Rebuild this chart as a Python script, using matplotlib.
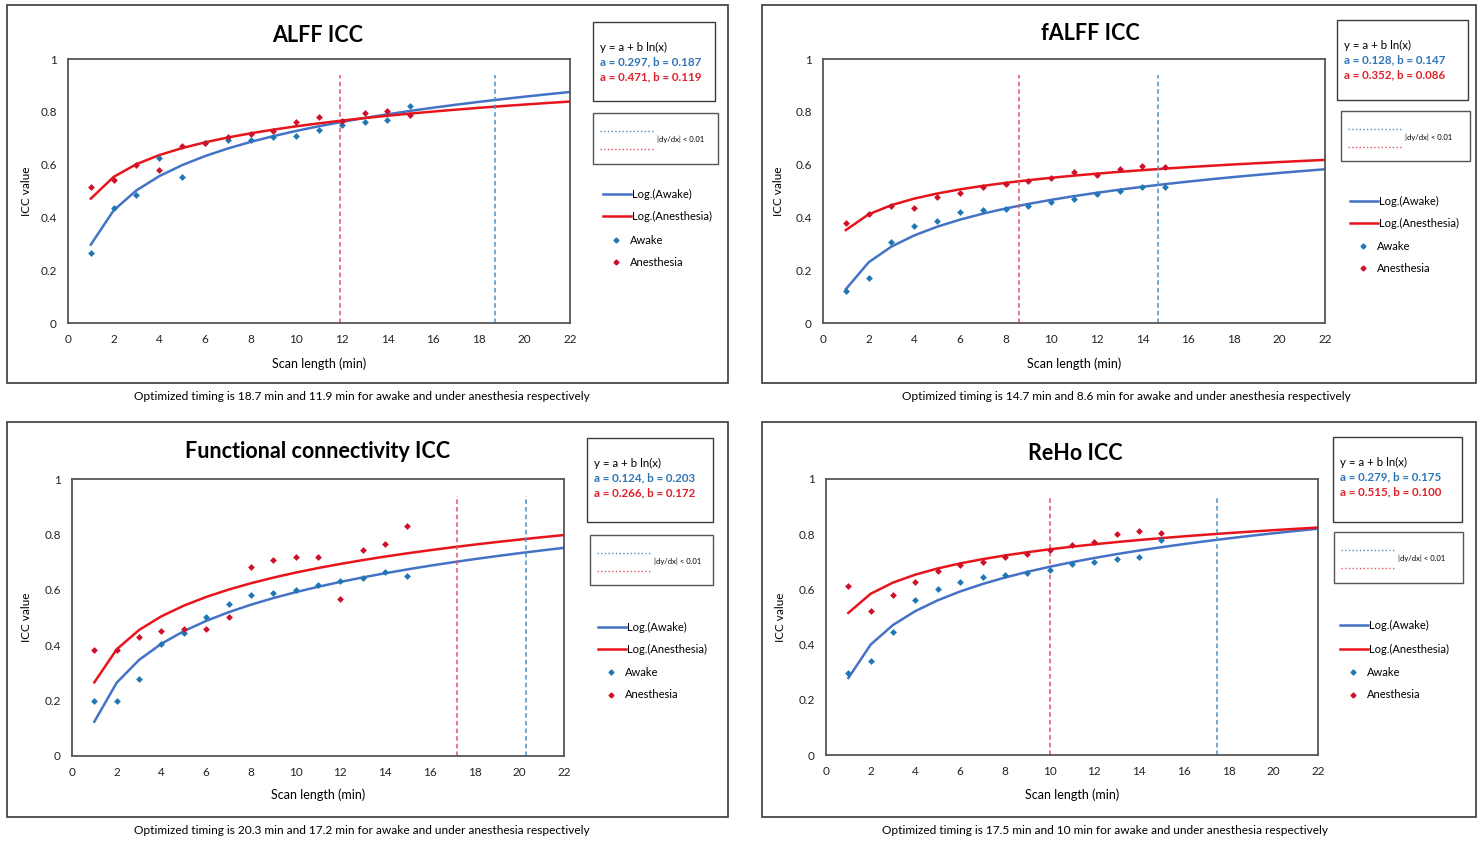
import numpy as np
import matplotlib
matplotlib.use('Agg')
import matplotlib.pyplot as plt
from matplotlib.patches import Rectangle
from matplotlib.lines import Line2D

plt.rcParams['font.family'] = ['Lato', 'DejaVu Sans']

W, H = 1482, 841

titles = ['ALFF ICC', 'fALFF ICC', 'Functional connectivity ICC', 'ReHo ICC']
scan_min = [1, 2, 3, 4, 5, 6, 7, 8, 9, 10, 11, 12, 13, 14, 15]

awake_alff = [0.265, 0.436, 0.484, 0.625, 0.554, 0.682, 0.694, 0.694, 0.705, 0.710, 0.730, 0.751, 0.760, 0.770, 0.821]
anes_alff = [0.514, 0.540, 0.598, 0.578, 0.669, 0.682, 0.705, 0.716, 0.726, 0.760, 0.780, 0.764, 0.795, 0.802, 0.789]
awake_falff = [0.120, 0.170, 0.307, 0.366, 0.386, 0.422, 0.428, 0.433, 0.444, 0.458, 0.468, 0.489, 0.499, 0.514, 0.514]
anes_falff = [0.378, 0.413, 0.444, 0.437, 0.479, 0.492, 0.514, 0.528, 0.539, 0.549, 0.573, 0.562, 0.583, 0.593, 0.590]
awake_fc = [0.199, 0.199, 0.278, 0.405, 0.443, 0.501, 0.547, 0.582, 0.587, 0.598, 0.617, 0.633, 0.642, 0.663, 0.651]
anes_fc = [0.382, 0.382, 0.428, 0.452, 0.458, 0.458, 0.502, 0.682, 0.707, 0.717, 0.717, 0.566, 0.742, 0.767, 0.831]
awake_reho = [0.296, 0.341, 0.445, 0.561, 0.601, 0.626, 0.646, 0.651, 0.661, 0.671, 0.692, 0.701, 0.711, 0.716, 0.778]
anes_reho = [0.611, 0.521, 0.580, 0.626, 0.666, 0.690, 0.701, 0.717, 0.727, 0.741, 0.762, 0.771, 0.802, 0.811, 0.806]

awake_pts = [awake_alff, awake_falff, awake_fc, awake_reho]
anes_pts = [anes_alff, anes_falff, anes_fc, anes_reho]

# log fit parameters y = a + b ln(x)
a_awake = [0.297, 0.128, 0.124, 0.279]
b_awake = [0.187, 0.147, 0.203, 0.175]
a_anes = [0.471, 0.352, 0.266, 0.515]
b_anes = [0.119, 0.086, 0.172, 0.100]

# scan length where |dy/dx| < 0.01
opt_awake = [18.7, 14.7, 20.3, 17.5]
opt_anes = [11.9, 8.6, 17.2, 10.0]

x_ticks = list(range(0, 23, 2))
y_ticks = [0, 0.2, 0.4, 0.6, 0.8, 1]
y_tick_labels = ['0', '0.2', '0.4', '0.6', '0.8', '1']

BLUE_LINE = '#4472c4'
RED_LINE = '#e8141b'
BLUE_PT = '#1f77b4'
RED_PT = '#d0102a'
BLUE_TXT = '#2e75b6'
RED_TXT = '#e0202a'
FRAME = '#555555'

# pixel layout of each panel (left, top, right, bottom)
outer = [(7, 5, 728, 383), (762, 5, 1476, 383), (7, 422, 728, 817), (762, 422, 1476, 817)]
axbox = [(68, 59, 570, 323), (823, 59, 1325, 323), (72, 479, 564, 756), (826, 479, 1318, 755)]
title_pos = [(318, 35), (1090, 33), (318, 452), (1075, 453)]
ylab_x = [27, 779, 27, 780]
xlab_y = [364, 364, 795, 795]
eqbox = [(593, 22, 715, 101), (1337, 20, 1468, 100), (587, 438, 713, 522), (1333, 437, 1462, 522)]
dybox = [(593, 113, 718, 164), (1341, 111, 1470, 161), (590, 535, 713, 585), (1334, 532, 1463, 583)]
leg_x = [603, 1350, 598, 1340]
leg_y = [(194, 216, 240, 262), (201, 223, 246, 268), (627, 649, 672, 695), (625, 649, 672, 695)]
cap_pos = [(362, 397), (1126, 397), (362, 830), (1105, 830)]

fig = plt.figure(figsize=(W / 100, H / 100), dpi=100)
fig.patch.set_facecolor('white')


def fx(px):
    return px / W


def fy(py):
    return 1 - py / H


def frame(box, color, lw):
    l, t, r, b = box
    fig.add_artist(Rectangle((fx(l), fy(b)), fx(r - l), (b - t) / H, transform=fig.transFigure,
                             fill=False, edgecolor=color, linewidth=lw))


def hline(x0, x1, y, color, lw, ls='-'):
    fig.add_artist(Line2D([fx(x0), fx(x1)], [fy(y), fy(y)], transform=fig.transFigure,
                          color=color, linewidth=lw, linestyle=ls))


xfit = np.arange(1, 23)

for i in range(4):
    frame(outer[i], '#3a3a3a', 1.2)

    l, t, r, b = axbox[i]
    ax = fig.add_axes([fx(l), fy(b), fx(r - l), (b - t) / H])
    ax.set_xlim(0, 22)
    ax.set_ylim(0, 1)
    ax.set_xticks(x_ticks)
    ax.set_yticks(y_ticks)
    ax.set_yticklabels(y_tick_labels)
    ax.tick_params(length=0, labelsize=8.5, pad=8, colors='#222222')
    for s in ax.spines.values():
        s.set_color(FRAME)
        s.set_linewidth(1.3)

    ax.plot(xfit, a_awake[i] + b_awake[i] * np.log(xfit), color=BLUE_LINE, lw=1.8)
    ax.plot(xfit, a_anes[i] + b_anes[i] * np.log(xfit), color=RED_LINE, lw=1.8)
    ax.scatter(scan_min, awake_pts[i], s=12, marker='D', color=BLUE_PT, zorder=3, linewidths=0)
    ax.scatter(scan_min, anes_pts[i], s=12, marker='D', color=RED_PT, zorder=3, linewidths=0)
    ax.axvline(opt_anes[i], ymin=0, ymax=0.94, color='#e05560', lw=1.1, ls=(0, (3, 2)))
    ax.axvline(opt_awake[i], ymin=0, ymax=0.94, color='#4a90c8', lw=1.1, ls=(0, (3, 2)))

    tx, ty = title_pos[i]
    fig.text(fx(tx), fy(ty), titles[i], ha='center', va='center', fontsize=15.5, fontweight='bold')
    fig.text(fx(ylab_x[i]), fy((t + b) / 2), 'ICC value', rotation=90, ha='center', va='center', fontsize=8.5)
    fig.text(fx((l + r) / 2), fy(xlab_y[i]), 'Scan length (min)', ha='center', va='center', fontsize=9)

    # equation box
    frame(eqbox[i], '#3a3a3a', 1.0)
    el, et, er, eb = eqbox[i]
    ex = el + 7
    fig.text(fx(ex), fy(et + 25), 'y = a + b ln(x)', ha='left', va='center', fontsize=8.3)
    fig.text(fx(ex), fy(et + 40), 'a = %.3f, b = %.3f' % (a_awake[i], b_awake[i]),
             ha='left', va='center', fontsize=8.3, fontweight='bold', color=BLUE_TXT)
    fig.text(fx(ex), fy(et + 55), 'a = %.3f, b = %.3f' % (a_anes[i], b_anes[i]),
             ha='left', va='center', fontsize=8.3, fontweight='bold', color=RED_TXT)

    # slope threshold box
    frame(dybox[i], '#555555', 1.0)
    dl, dt, dr, db = dybox[i]
    hline(dl + 7, dl + 60, dt + 18, '#4a90c8', 1.0, ':')
    hline(dl + 7, dl + 60, dt + 36, '#e05560', 1.0, ':')
    fig.text(fx(dl + 64), fy(dt + 26), '|dy/dx| < 0.01', ha='left', va='center', fontsize=5.5)

    # legend
    lx = leg_x[i]
    y1, y2, y3, y4 = leg_y[i]
    hline(lx, lx + 28, y1, BLUE_LINE, 1.8)
    hline(lx, lx + 28, y2, RED_LINE, 1.8)
    fig.text(fx(lx + 29), fy(y1), 'Log.(Awake)', ha='left', va='center', fontsize=8)
    fig.text(fx(lx + 29), fy(y2), 'Log.(Anesthesia)', ha='left', va='center', fontsize=8)
    fig.add_artist(Line2D([fx(lx + 13)], [fy(y3)], transform=fig.transFigure, marker='D',
                          markersize=2.5, color=BLUE_PT, linestyle='none'))
    fig.add_artist(Line2D([fx(lx + 13)], [fy(y4)], transform=fig.transFigure, marker='D',
                          markersize=2.5, color=RED_PT, linestyle='none'))
    fig.text(fx(lx + 27), fy(y3), 'Awake', ha='left', va='center', fontsize=8)
    fig.text(fx(lx + 27), fy(y4), 'Anesthesia', ha='left', va='center', fontsize=8)

    cx, cy = cap_pos[i]
    fig.text(fx(cx), fy(cy), 'Optimized timing is %g min and %g min for awake and under anesthesia respectively'
             % (opt_awake[i], opt_anes[i]), ha='center', va='center', fontsize=8.6)

fig.savefig('out.png', dpi=100, facecolor='white')
